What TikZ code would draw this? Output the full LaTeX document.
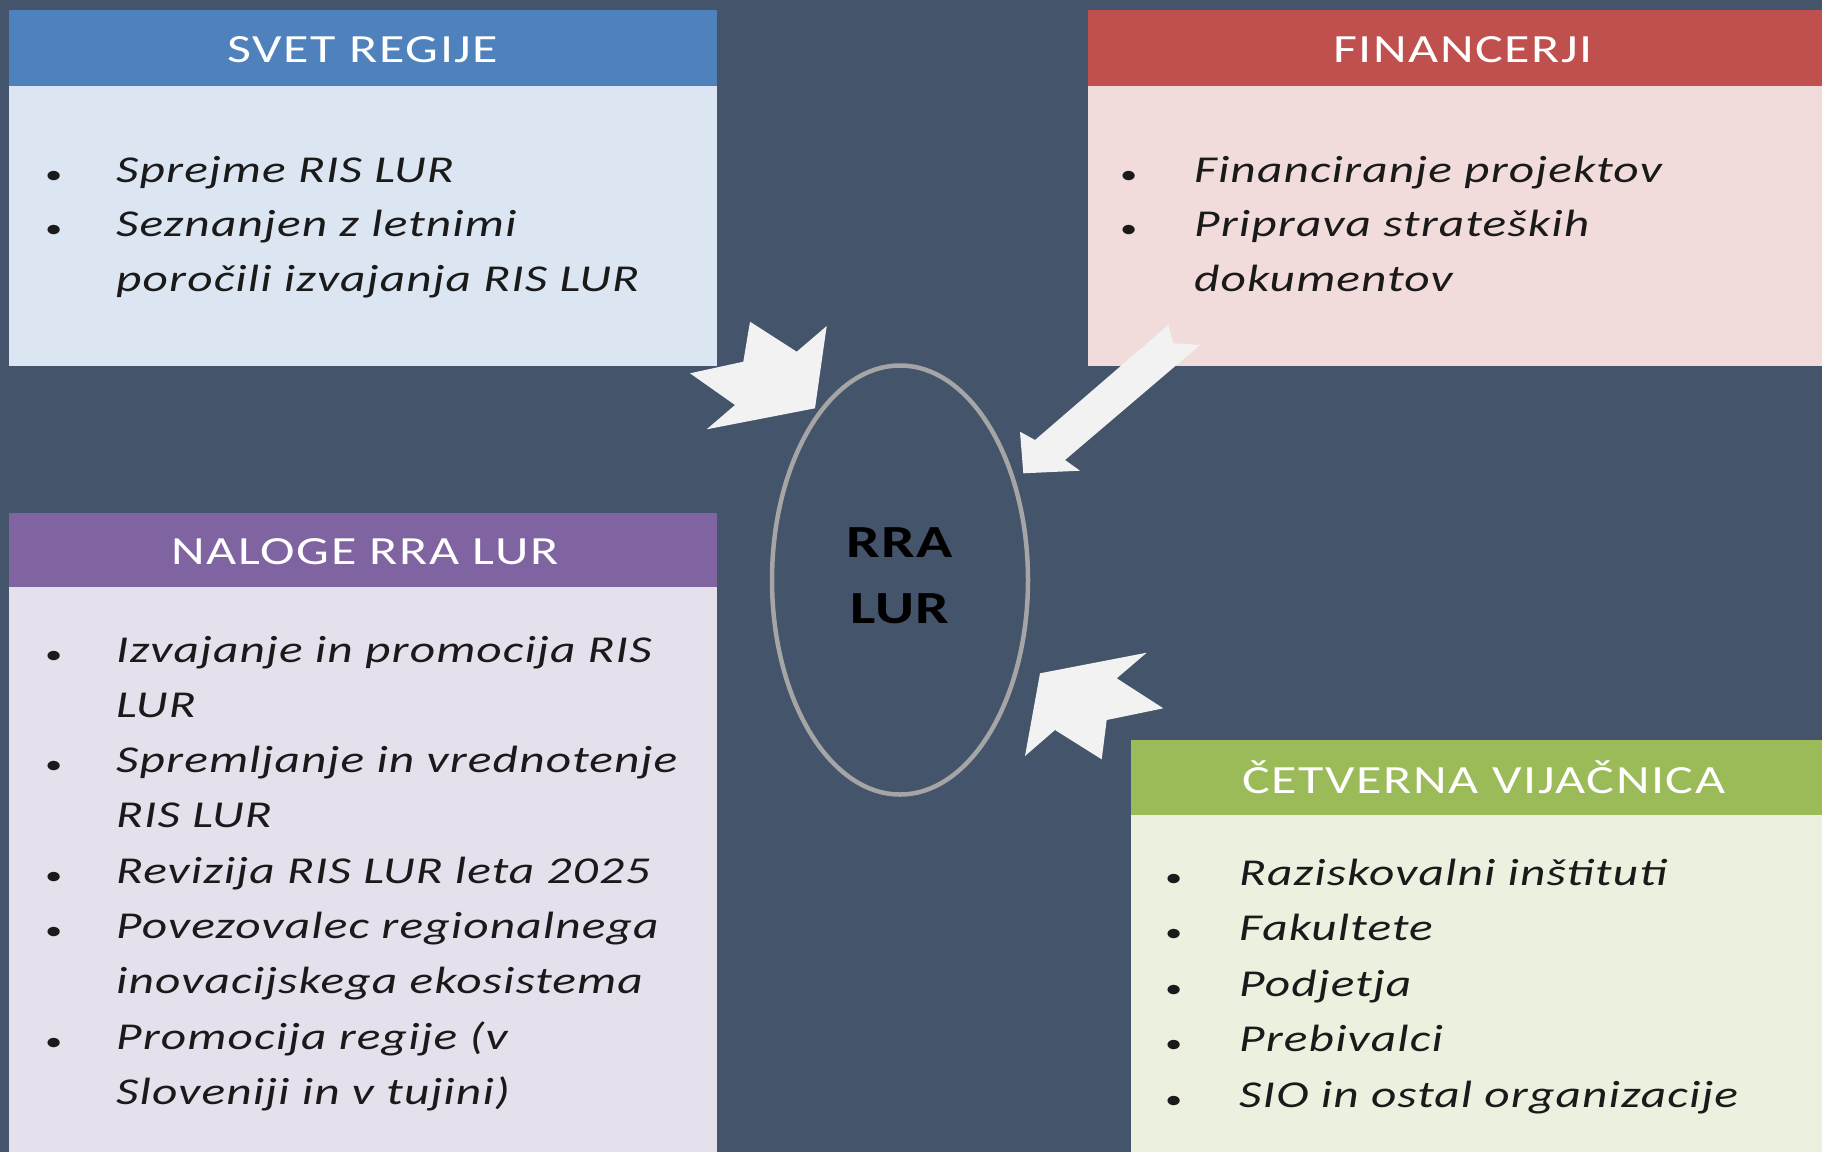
\documentclass[tikz,border=0pt]{standalone}
\usepackage{fontspec}
\usepackage{array}
\usepackage{graphicx}
\usetikzlibrary{shapes.geometric}
\setmainfont{Carlito}[FakeStretch=1.3,LetterSpace=3]
\newfontfamily\hdrfont{Carlito}[FakeStretch=1.3,LetterSpace=4]
\definecolor{bgc}{HTML}{44546A}
\definecolor{blueH}{HTML}{4F81BD}
\definecolor{blueB}{HTML}{DCE6F2}
\definecolor{redH}{HTML}{C0504D}
\definecolor{redB}{HTML}{F2DCDB}
\definecolor{purpH}{HTML}{8064A2}
\definecolor{purpB}{HTML}{E5E0EC}
\definecolor{greenH}{HTML}{9BBB59}
\definecolor{greenB}{HTML}{EBF1DE}
\definecolor{arrowc}{HTML}{F2F2F2}
\definecolor{ellc}{HTML}{A5A5A5}
\definecolor{txt}{HTML}{1A1A1A}
\newcommand{\bul}{\raisebox{-1pt}{\scalebox{0.7}{\upshape\textbullet}}}
\tikzset{
  hdr/.style={inner sep=0pt, anchor=base, text=white, font=\hdrfont\fontsize{40}{48}\selectfont},
  lst/.style={inner sep=0pt, anchor=base west, text=txt, font=\itshape\fontsize{38}{54.8}\selectfont},
  blockarrow/.style={fill=arrowc, draw=none},
}
\begin{document}
\begin{tikzpicture}[x=1pt,y=-1pt]
\useasboundingbox (0,0) rectangle (1822,1152);
\fill[bgc] (0,0) rectangle (1822,1152);
% boxes
\fill[blueB] (9,86) rectangle (717,366);
\fill[blueH] (9,10) rectangle (717,86);
\fill[redB] (1088,86) rectangle (1822,366);
\fill[redH] (1088,10) rectangle (1822,86);
\fill[purpB] (9,587) rectangle (717,1152);
\fill[purpH] (9,513) rectangle (717,587);
\fill[greenB] (1131,815) rectangle (1822,1152);
\fill[greenH] (1131,740) rectangle (1822,815);
% headers
\node[hdr] (svet) at (363,62) {SVET REGIJE};
\node[hdr] (fin) at (1463,62) {FINANCERJI};
\node[hdr] (nal) at (365,564) {NALOGE RRA LUR};
\node[hdr] (cet) at (1484,793) {ČETVERNA VIJAČNICA};
% lists
\node[lst] (svetlist) at (45,182) {\begin{tabular}[t]{@{}p{71pt}@{}l@{}}
\bul & Sprejme RIS LUR\\
\bul & Seznanjen z letnimi\\
 & poročili izvajanja RIS LUR
\end{tabular}};
\node[lst] (finlist) at (1120,182) {\begin{tabular}[t]{@{}p{74pt}@{}l@{}}
\bul & Financiranje projektov\\
\bul & Priprava strateških\\
 & dokumentov
\end{tabular}};
\node[lst, font=\itshape\fontsize{38}{55.3}\selectfont] (nallist) at (45,662) {\begin{tabular}[t]{@{}p{71pt}@{}l@{}}
\bul & Izvajanje in promocija RIS\\
 & LUR\\
\bul & Spremljanje in vrednotenje\\
 & RIS LUR\\
\bul & Revizija RIS LUR leta 2025\\
\bul & Povezovalec regionalnega\\
 & inovacijskega ekosistema\\
\bul & Promocija regije (v\\
 & Sloveniji in v tujini)
\end{tabular}};
\node[lst, font=\itshape\fontsize{38}{55.5}\selectfont] (cetlist) at (1165,885) {\begin{tabular}[t]{@{}p{74pt}@{}l@{}}
\bul & Raziskovalni inštituti\\
\bul & Fakultete\\
\bul & Podjetja\\
\bul & Prebivalci\\
\bul & SIO in ostal organizacije
\end{tabular}};
% centre
\node[draw=ellc, line width=4.5pt, ellipse, minimum width=256pt, minimum height=429pt, inner sep=0pt] (rra) at (900,580) {};
\node[inner sep=0pt, anchor=base, font=\bfseries\fontsize{46}{66}\selectfont, align=center] (rratxt) at (900,623) {RRA\\LUR};
% arrows
\fill[blockarrow] (750,321.7) -- (796.7,351.7) -- (826.7,326) -- (815,408.3) -- (706.7,429.3) -- (735,405) -- (690,373.3) -- (743.3,361.7) -- cycle;
\fill[blockarrow] (1168.3,325) -- (1173.3,343.3) -- (1200,345) -- (1065,460) -- (1080,470.7) -- (1023.3,473.3) -- (1020,431.7) -- (1035,440) -- cycle;
\fill[blockarrow] (1040,673.3) -- (1146.7,652.7) -- (1116.7,678.3) -- (1163.3,708.3) -- (1106.7,720) -- (1101.7,759.3) -- (1055,730) -- (1025,756) -- cycle;
\end{tikzpicture}
\end{document}
